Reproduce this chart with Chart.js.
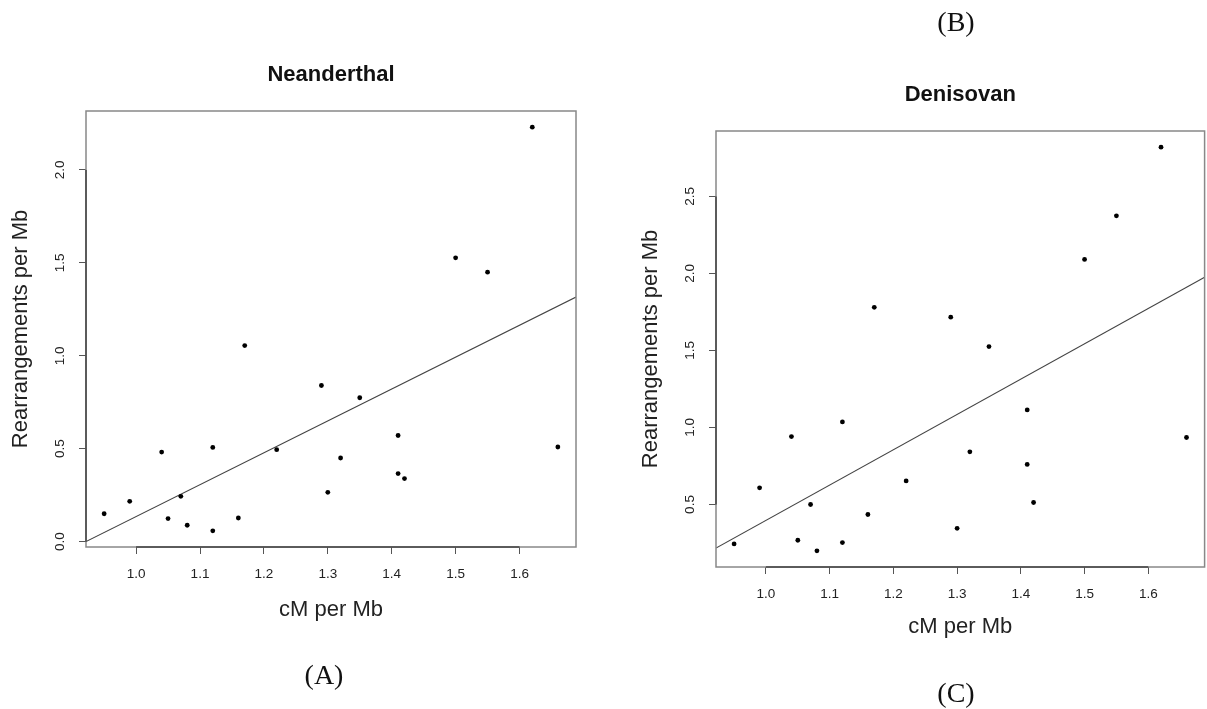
<!DOCTYPE html>
<html>
<head>
<meta charset="utf-8">
<script src="https://cdn.jsdelivr.net/npm/chart.js@4.4.1/dist/chart.umd.min.js"></script>
<style>
  body { margin: 0; background: #fff; }
  #page { position: relative; width: 1207px; height: 709px; overflow: hidden; }
  canvas { position: absolute; top: 0; }
  .panel {
    position: absolute;
    font-family: 'Liberation Serif', 'DejaVu Serif', serif;
    font-size: 28px;
    line-height: 30px;
    color: #111;
    transform: translateX(-50%);
  }
</style>
</head>
<body>
<div id="page">
  <canvas id="neanderthal" width="600" height="709" style="left:0"></canvas>
  <canvas id="denisovan" width="607" height="709" style="left:600px"></canvas>
  <div class="panel" style="left:324px; top:660px">(A)</div>
  <div class="panel" style="left:956px; top:7px">(B)</div>
  <div class="panel" style="left:956px; top:678px">(C)</div>
</div>
<script>
// recombination rate per chromosome (same x for both panels)
const cmPerMb = [0.95, 0.99, 1.04, 1.05, 1.07, 1.08, 1.12, 1.12, 1.16, 1.17, 1.22,
                 1.29, 1.30, 1.32, 1.35, 1.41, 1.41, 1.42, 1.50, 1.55, 1.62, 1.66];

// rearrangements per Mb
const neanderthal = [0.150, 0.217, 0.482, 0.124, 0.244, 0.088, 0.507, 0.058, 0.127, 1.055, 0.495,
                     0.840, 0.265, 0.450, 0.774, 0.571, 0.366, 0.339, 1.527, 1.450, 2.230, 0.509];
const denisovan = [0.244, 0.608, 0.941, 0.268, 0.500, 0.199, 1.036, 0.253, 0.435, 1.780, 0.653,
                   1.716, 0.345, 0.842, 1.525, 1.114, 0.760, 0.513, 2.091, 2.374, 2.820, 0.935];

// fitted line, value at both ends of the x range
const xRange = [0.9216, 1.6884];
const neanderthalFit = [0.000, 1.316];
const denisovanFit = [0.217, 1.975];

// axes
const xTicks = [1.0, 1.1, 1.2, 1.3, 1.4, 1.5, 1.6];
const neanderthalYTicks = [0.0, 0.5, 1.0, 1.5, 2.0];
const denisovanYTicks = [0.5, 1.0, 1.5, 2.0, 2.5];
const neanderthalYRange = [-0.0289, 2.3169];
const denisovanYRange = [0.0942, 2.9248];

const SANS = '"Liberation Sans", Arial, Helvetica, sans-serif';

// box around the plot, axis lines over the tick range, rotated y labels (base R look)
const rStyle = {
  id: 'rStyle',
  afterDraw(chart, args, opts) {
    const { ctx, chartArea: a } = chart;
    const x = chart.scales.x;
    const y = chart.scales.y;
    ctx.save();
    ctx.strokeStyle = '#888';
    ctx.lineWidth = 1.5;
    ctx.strokeRect(a.left, a.top, a.right - a.left, a.bottom - a.top);

    ctx.strokeStyle = '#444';
    ctx.beginPath();
    ctx.moveTo(x.getPixelForValue(xTicks[0]), a.bottom);
    ctx.lineTo(x.getPixelForValue(xTicks[xTicks.length - 1]), a.bottom);
    ctx.moveTo(a.left, y.getPixelForValue(opts.labels[0]));
    ctx.lineTo(a.left, y.getPixelForValue(opts.labels[opts.labels.length - 1]));
    ctx.stroke();

    ctx.fillStyle = '#222';
    ctx.font = '13.5px ' + SANS;
    ctx.textAlign = 'center';
    ctx.textBaseline = 'middle';
    opts.labels.forEach(v => {
      ctx.save();
      ctx.translate(a.left - 26, y.getPixelForValue(v));
      ctx.rotate(-Math.PI / 2);
      ctx.fillText(v.toFixed(1), 0, 0);
      ctx.restore();
    });
    ctx.restore();
  }
};

function makeChart(id, title, values, fit, yTicks, yRange, lay) {
  const points = cmPerMb.map((x, i) => ({ x: x, y: values[i] }));
  const line = xRange.map((x, i) => ({ x: x, y: fit[i] }));

  return new Chart(document.getElementById(id), {
    type: 'scatter',
    data: {
      datasets: [{
        data: points,
        pointRadius: 2.4,
        pointHoverRadius: 2.4,
        backgroundColor: '#000',
        borderWidth: 0
      }, {
        type: 'line',
        data: line,
        borderColor: '#444',
        borderWidth: 1.1,
        pointRadius: 0,
        fill: false
      }]
    },
    plugins: [rStyle],
    options: {
      responsive: false,
      animation: false,
      layout: { padding: lay.padding },
      plugins: {
        legend: { display: false },
        tooltip: { enabled: false },
        title: {
          display: true,
          text: title,
          fullSize: false,
          color: '#111',
          font: { family: SANS, size: 22, weight: 'bold' },
          padding: { top: 0, bottom: 22.8 }
        },
        rStyle: { labels: yTicks }
      },
      scales: {
        x: {
          type: 'linear',
          min: xRange[0],
          max: xRange[1],
          afterBuildTicks: s => { s.ticks = xTicks.map(v => ({ value: v })); },
          afterFit: s => { s.height = 80; },
          ticks: {
            autoSkip: false,
            maxRotation: 0,
            padding: 12,
            color: '#222',
            font: { family: SANS, size: 13.5 },
            callback: v => v.toFixed(1)
          },
          grid: { drawOnChartArea: false, drawTicks: true, tickLength: 7, color: '#555' },
          border: { display: false },
          title: {
            display: true,
            text: 'cM per Mb',
            color: '#222',
            font: { family: SANS, size: 22 },
            padding: { top: 0, bottom: lay.xTitlePad }
          }
        },
        y: {
          type: 'linear',
          min: yRange[0],
          max: yRange[1],
          afterBuildTicks: s => { s.ticks = yTicks.map(v => ({ value: v })); },
          afterFit: s => { s.width = lay.yWidth; },
          ticks: { display: false },
          grid: { drawOnChartArea: false, drawTicks: true, tickLength: 7, color: '#555' },
          border: { display: false },
          title: {
            display: true,
            text: 'Rearrangements per Mb',
            color: '#222',
            font: { family: SANS, size: 22 },
            padding: { top: lay.yTitlePad, bottom: 0 }
          }
        }
      }
    }
  });
}

makeChart('neanderthal', 'Neanderthal', neanderthal, neanderthalFit,
  neanderthalYTicks, neanderthalYRange,
  { padding: { left: 0, right: 24, top: 61.8, bottom: 82 }, yWidth: 86, yTitlePad: 7.8, xTitlePad: 3.8 });

makeChart('denisovan', 'Denisovan', denisovan, denisovanFit,
  denisovanYTicks, denisovanYRange,
  { padding: { left: 0, right: 1, top: 81.8, bottom: 62 }, yWidth: 116, yTitlePad: 37.8, xTitlePad: 6.8 });
</script>
</body>
</html>
